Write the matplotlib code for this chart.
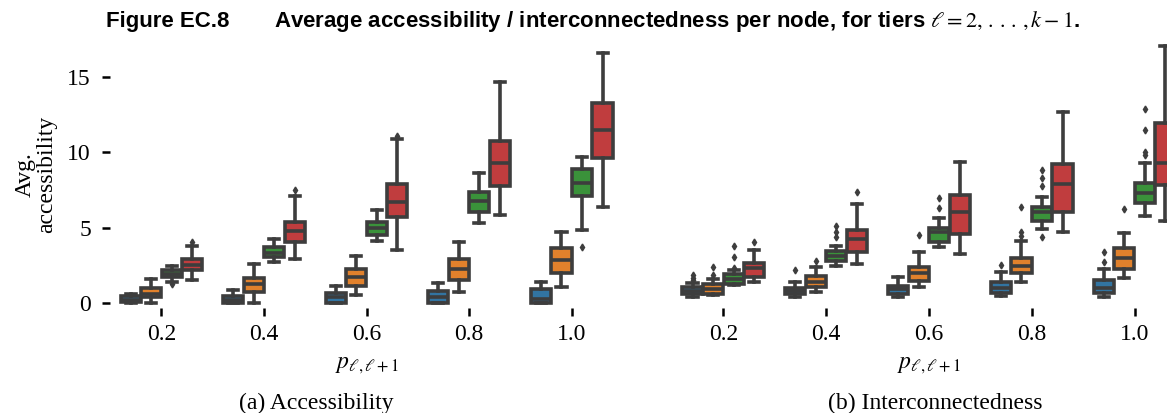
import matplotlib
matplotlib.use("Agg")
import matplotlib.pyplot as plt
import numpy as np

# categories on the x axis and the four tiers (hue order)
p_values = ["0.2", "0.4", "0.6", "0.8", "1.0"]
tier_colors = ["#3274a1", "#e1812c", "#3a923a", "#c03d3e"]

# (a) accessibility, rows = p value, cols = tier
acc_q1 = [[0.05, 0.38, 1.75, 2.2], [0.02, 0.75, 3.04, 4.08], [0.02, 1.15, 4.52, 5.74],
          [0.02, 1.53, 6.03, 7.74], [0.02, 1.97, 7.12, 9.62]]
acc_med = [[0.2, 0.6, 1.95, 2.5], [0.2, 1.25, 3.35, 4.75], [0.4, 1.7, 4.97, 6.7],
           [0.4, 2.28, 6.78, 9.29], [0.25, 2.86, 7.96, 11.5]]
acc_q3 = [[0.45, 0.97, 2.2, 2.95], [0.45, 1.64, 3.7, 5.4], [0.64, 2.26, 5.37, 7.92],
          [0.82, 2.93, 7.36, 10.78], [0.95, 3.64, 8.9, 13.24]]
acc_lo = [[0.0, 0.0, 1.4, 1.5], [0.0, 0.0, 2.75, 2.93], [0.0, 0.53, 4.12, 3.52],
          [0.0, 0.71, 5.34, 5.85], [0.0, 1.04, 4.86, 6.4]]
acc_hi = [[0.6, 1.6, 2.48, 3.75], [0.86, 2.6, 4.26, 7.1], [1.15, 3.13, 6.14, 10.9],
          [1.35, 4.03, 8.63, 14.66], [1.42, 4.74, 9.67, 16.56]]
acc_fliers = [[[], [], [1.25], [4.08]], [[], [], [], [7.47]], [[], [], [], [11.06]],
              [[], [], [], []], [[], [], [3.7], []]]

# (b) interconnectedness
int_q1 = [[0.6, 0.6, 1.24, 1.75], [0.6, 1.09, 2.82, 3.41], [0.6, 1.49, 4.08, 4.57],
          [0.69, 1.97, 5.46, 6.02], [0.64, 2.23, 6.62, 7.83]]
int_med = [[0.8, 0.9, 1.57, 2.35], [0.78, 1.37, 3.15, 4.23], [0.9, 1.97, 4.68, 6.03],
           [0.98, 2.48, 6.06, 7.88], [0.97, 2.96, 7.28, 9.27]]
int_q3 = [[1.05, 1.24, 1.9, 2.64], [1.0, 1.82, 3.48, 4.86], [1.15, 2.37, 5.01, 7.14],
          [1.42, 3.0, 6.39, 9.2], [1.53, 3.63, 7.94, 11.97]]
int_lo = [[0.42, 0.53, 1.2, 1.42], [0.42, 0.75, 2.48, 2.62], [0.38, 1.04, 3.7, 3.28],
          [0.47, 1.37, 4.91, 4.73], [0.42, 1.64, 5.8, 5.46]]
int_hi = [[1.3, 1.57, 2.2, 3.53], [1.42, 2.4, 3.79, 6.58], [1.75, 3.41, 5.63, 9.36],
          [2.08, 4.14, 7.06, 12.65], [2.23, 4.67, 9.27, 17.06]]
int_fliers = [[[1.5, 1.65, 1.85], [1.86, 2.4], [2.3, 3.08, 3.75], [4.08]],
              [[2.2], [2.8], [4.41, 4.74, 5.08], [7.34]],
              [[], [4.52], [6.3, 6.96], []],
              [[2.53], [4.47, 4.73, 6.39], [4.36, 7.77, 8.27, 8.83], []],
              [[2.7, 3.4], [6.24], [9.8, 10.0, 11.5, 12.9], []]]

GRAY = "#3d3d3d"
LW = 2.6


def draw_panel(ax, q1, med, q3, lo, hi, fliers):
    stats = []
    pos = []
    cols = []
    for i in range(len(p_values)):
        for j in range(len(tier_colors)):
            stats.append(dict(q1=q1[i][j], med=med[i][j], q3=q3[i][j],
                              whislo=lo[i][j], whishi=hi[i][j], fliers=fliers[i][j]))
            pos.append(i + (j - 1.5) * 0.2)
            cols.append(tier_colors[j])
    art = ax.bxp(stats, positions=pos, widths=0.196, patch_artist=True,
                 boxprops=dict(edgecolor=GRAY, linewidth=LW),
                 whiskerprops=dict(color=GRAY, linewidth=LW),
                 capprops=dict(color=GRAY, linewidth=LW),
                 medianprops=dict(color=GRAY, linewidth=LW),
                 flierprops=dict(marker="d", markerfacecolor=GRAY, markeredgecolor=GRAY,
                                 markersize=3.5, linestyle="none"))
    for box, c in zip(art["boxes"], cols):
        box.set_facecolor(c)

    ax.set_xlim(-0.5, len(p_values) - 0.5)
    ax.set_ylim(-0.3, 17.4)
    ax.set_xticks(range(len(p_values)))
    ax.set_xticklabels(p_values)
    for s in ax.spines.values():
        s.set_visible(False)
    ax.tick_params(axis="x", direction="out", length=5.8, width=1.8, pad=6, labelsize=17)
    ax.tick_params(axis="y", direction="out", length=5.8, width=1.8, pad=8, labelsize=17)
    ax.set_xlabel(r"$p_{\ell,\ell+1}$", fontsize=17, va="center")
    ax.xaxis.set_label_coords(0.5, -0.216)


def main():
    plt.rcParams["font.family"] = ["Liberation Serif", "DejaVu Serif"]
    plt.rcParams["mathtext.fontset"] = "stix"

    fig = plt.figure(figsize=(11.67, 4.13), dpi=100)
    ax1 = fig.add_axes([0.0943, 0.2554, 0.4396, 0.6458])
    ax2 = fig.add_axes([0.5758, 0.2554, 0.4404, 0.6458])

    draw_panel(ax1, acc_q1, acc_med, acc_q3, acc_lo, acc_hi, acc_fliers)
    ax1.set_yticks([0, 5, 10, 15])
    ax1.set_ylabel("Avg.\naccessibility", fontsize=17, linespacing=1.0)
    ax1.yaxis.set_label_coords(-0.104, 0.5)

    draw_panel(ax2, int_q1, int_med, int_q3, int_lo, int_hi, int_fliers)
    ax2.tick_params(axis="y", left=False, labelleft=False)

    ty = 1 - 21 / 413
    fig.text(106 / 1167, ty, "Figure EC.8", family="Liberation Sans", weight="bold",
             fontsize=16, va="center", ha="left")
    fig.text(274 / 1167, ty,
             r"Average accessibility / interconnectedness per node, for tiers $\ell = 2,\,.\,.\,.\,, k - 1$.",
             family="Liberation Sans", weight="bold", fontsize=16, va="center", ha="left")

    fig.text(316 / 1167, 10 / 413, "(a) Accessibility", fontsize=17, ha="center", va="center")
    fig.text(935 / 1167, 10 / 413, "(b) Interconnectedness", fontsize=17, ha="center", va="center")

    fig.savefig("out.png", dpi=100)


if __name__ == '__main__':
    main()
